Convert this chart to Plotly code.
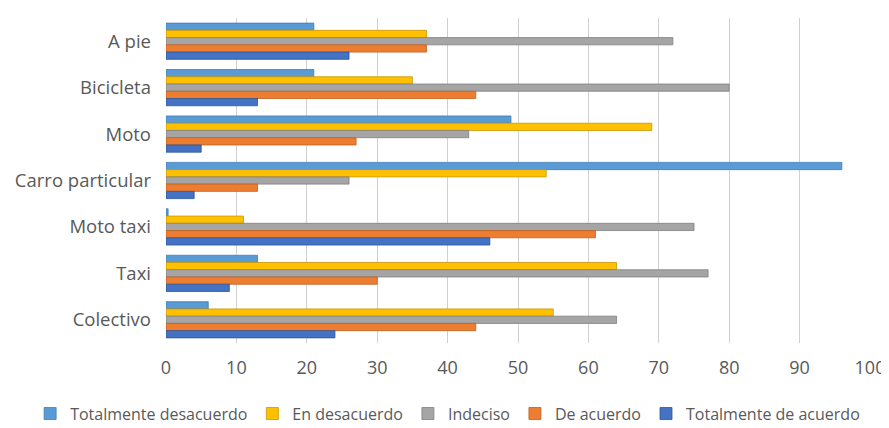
import plotly.graph_objects as go

categories = ["A pie", "Bicicleta", "Moto", "Carro particular", "Moto taxi", "Taxi", "Colectivo"]
series_names = ["Totalmente desacuerdo", "En desacuerdo", "Indeciso", "De acuerdo", "Totalmente de acuerdo"]
totalmente_desacuerdo = [21, 21, 49, 96, 0.3, 13, 6]
en_desacuerdo = [37, 35, 69, 54, 11, 64, 55]
indeciso = [72, 80, 43, 26, 75, 77, 64]
de_acuerdo = [37, 44, 27, 13, 61, 30, 44]
totalmente_de_acuerdo = [26, 13, 5, 4, 46, 9, 24]
colors = ["#5B9BD5", "#FFC000", "#A5A5A5", "#ED7D31", "#4472C4"]
edge_colors = ["#3F7DB8", "#C99700", "#7F7F7F", "#C05F1E", "#2F5597"]
x_ticks = [0, 10, 20, 30, 40, 50, 60, 70, 80, 90, 100]

values = [totalmente_desacuerdo, en_desacuerdo, indeciso, de_acuerdo, totalmente_de_acuerdo]

fig = go.Figure()
for name, vals, c, ec in zip(series_names, values, colors, edge_colors):
    fig.add_trace(go.Bar(
        y=categories, x=vals, name=name, orientation="h",
        marker=dict(color=c, line=dict(color=ec, width=0.8)),
    ))

fig.update_layout(
    width=889, height=428,
    barmode="group", bargap=0.22, bargroupgap=0,
    plot_bgcolor="white", paper_bgcolor="white",
    margin=dict(l=158, r=27, t=10, b=93, autoexpand=False),
    font=dict(family="Open Sans, sans-serif", color="#595959", size=16),
    xaxis=dict(range=[0, 100], tickvals=x_ticks, showgrid=True, gridcolor="#D0D0D0",
               gridwidth=1, zeroline=False, showline=False, ticks="",
               ticklabelstandoff=12, ticklabeloverflow="allow",
               tickfont=dict(size=18, color="#595959")),
    yaxis=dict(autorange="reversed", showgrid=False, showline=False, ticks="",
               ticklabelstandoff=14, tickfont=dict(size=18.5, color="#595959")),
    legend=dict(orientation="h", x=-0.193, xanchor="left",
                y=-0.165, yanchor="top",
                font=dict(size=16, color="#595959"),
                itemwidth=30, tracegroupgap=0),
)
fig.write_html("out.html")
